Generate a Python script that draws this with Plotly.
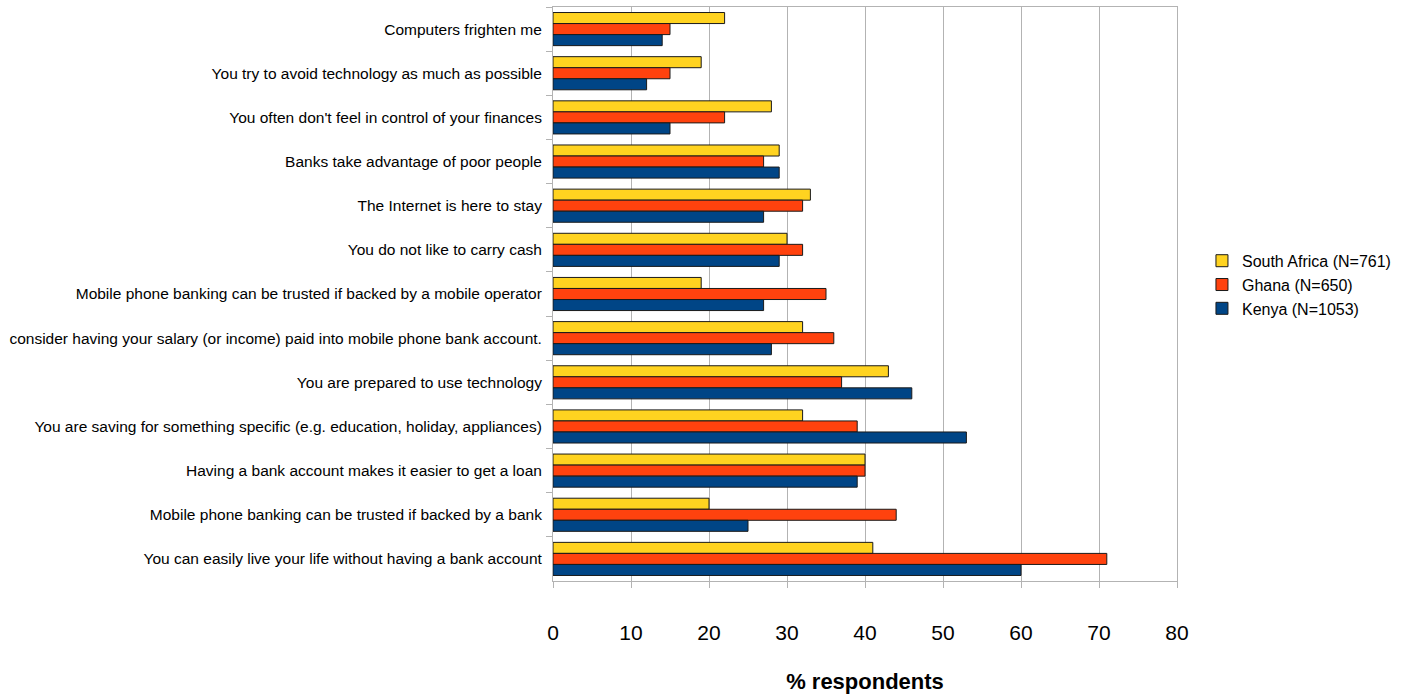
import plotly.graph_objects as go

categories = [
    "Computers frighten me",
    "You try to avoid technology as much as possible",
    "You often don't feel in control of your finances",
    "Banks take advantage of poor people",
    "The Internet is here to stay",
    "You do not like to carry cash",
    "Mobile phone banking can be trusted if backed by a mobile operator",
    "consider having your salary (or income) paid into mobile phone bank account.",
    "You are prepared to use technology",
    "You are saving for something specific (e.g. education, holiday, appliances)",
    "Having a bank account makes it easier to get a loan",
    "Mobile phone banking can be trusted if backed by a bank",
    "You can easily live your life without having a bank account",
]
south_africa = [22, 19, 28, 29, 33, 30, 19, 32, 43, 32, 40, 20, 41]
ghana = [15, 15, 22, 27, 32, 32, 35, 36, 37, 39, 40, 44, 71]
kenya = [14, 12, 15, 29, 27, 29, 27, 28, 46, 53, 39, 25, 60]

series_names = ["South Africa (N=761)", "Ghana (N=650)", "Kenya (N=1053)"]
colors = ["#FFD320", "#FF420E", "#004586"]
x_ticks = [0, 10, 20, 30, 40, 50, 60, 70, 80]

FONT = "Liberation Sans Narrow, Liberation Sans, Arial, sans-serif"

fig = go.Figure()
for name, vals, col in zip(series_names, [south_africa, ghana, kenya], colors):
    fig.add_trace(go.Bar(
        y=categories, x=vals, name=name, orientation="h",
        marker=dict(color=col, line=dict(color="#1a1a1a", width=1)),
    ))

fig.update_layout(
    width=1419, height=700,
    barmode="group", bargap=0.25, bargroupgap=0,
    plot_bgcolor="white", paper_bgcolor="white",
    margin=dict(l=553, r=242, t=7, b=119),
    font=dict(family=FONT, color="#000000"),
    legend=dict(
        x=1.04, y=0.516, xanchor="left", yanchor="middle",
        font=dict(size=16, family=FONT), tracegroupgap=0,
        itemwidth=30,
    ),
)
fig.update_xaxes(
    range=[0, 80], tickvals=x_ticks, ticktext=[str(v) for v in x_ticks],
    showgrid=True, gridcolor="#b3b3b3", gridwidth=1,
    showline=True, linecolor="#b3b3b3", linewidth=1, mirror=True,
    ticks="outside", ticklen=6, tickcolor="#b3b3b3",
    tickfont=dict(size=21, family=FONT), ticklabelstandoff=27,
    title=dict(text="<b>% respondents</b>", font=dict(size=22, family=FONT), standoff=30),
    zeroline=False, automargin=False,
)
fig.update_yaxes(
    autorange="reversed", tickson="boundaries",
    showline=True, linecolor="#b3b3b3", linewidth=1, mirror=True,
    ticks="outside", ticklen=6, tickcolor="#b3b3b3",
    tickfont=dict(size=15.5, family=FONT), ticklabelstandoff=7,
    showgrid=False, automargin=False,
)

fig.write_html("out.html")
